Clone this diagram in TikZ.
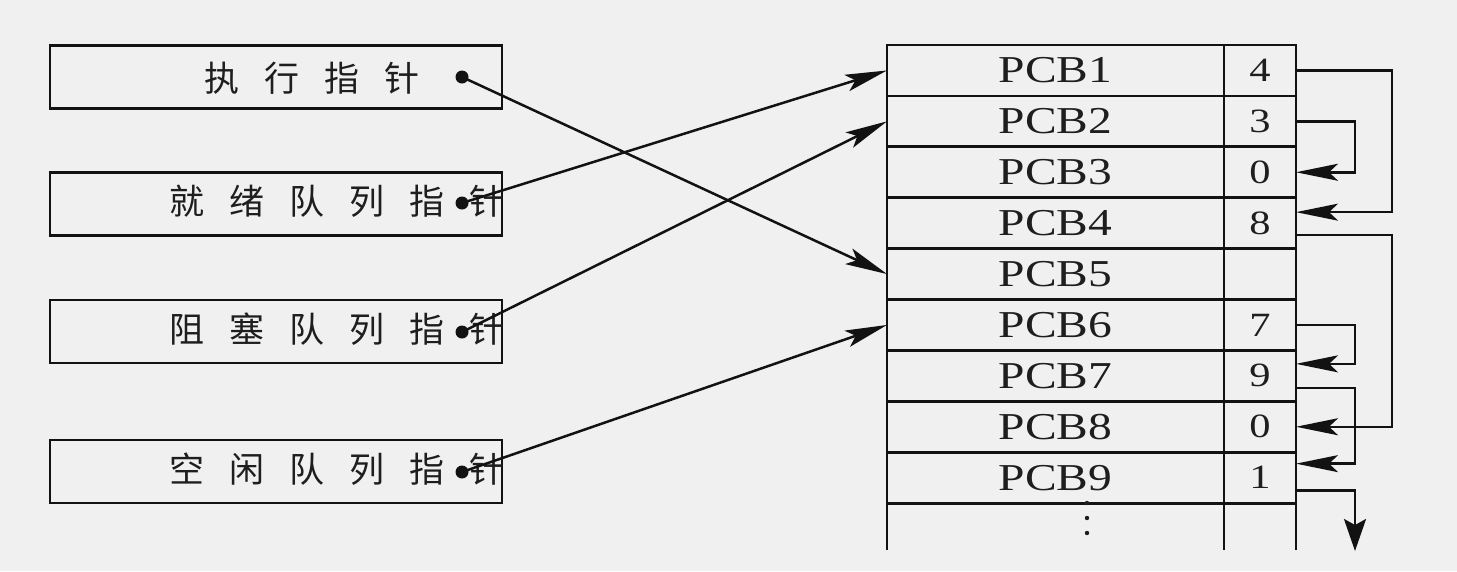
\documentclass[tikz,border=0pt]{standalone}
\usepackage{fontspec}
\newfontfamily\cjk{Noto Sans CJK SC}
\newfontfamily\pcbfont[FakeStretch=1.25]{Liberation Serif}
\usetikzlibrary{arrows.meta}
\definecolor{bgc}{RGB}{240,240,240}
\definecolor{ink}{RGB}{18,18,18}
\definecolor{txt}{RGB}{30,30,30}
\newcommand\hz[1]{\makebox[60pt]{#1}}
\tikzset{
  ptrbox/.style={draw=ink, line width=2.8pt, minimum width=452pt, minimum height=63pt, inner sep=0pt, outer sep=0pt},
  cjktext/.style={font=\cjk\fontsize{35}{35}\selectfont, text=txt, inner sep=0pt},
  ptrdot/.style={circle, fill=ink, inner sep=0pt, minimum size=13pt},
  namecell/.style={draw=ink, line width=2.8pt, minimum width=337pt, minimum height=50.9pt, inner sep=0pt, outer sep=0pt, text=txt, font=\pcbfont\fontsize{38}{38}\selectfont},
  valcell/.style={draw=ink, line width=2.8pt, minimum width=72pt, minimum height=50.9pt, inner sep=0pt, outer sep=0pt, text=txt, font=\pcbfont\fontsize{34}{34}\selectfont},
  tline/.style={draw=ink, line width=2.8pt},
  conn/.style={draw=ink, line width=2.5pt},
  arr/.style={conn, -{Stealth[length=42pt,width=17pt,inset=9pt]}},
  darr/.style={conn, -{Stealth[length=32pt,width=22pt,inset=6pt]}},
  vdot/.style={circle, fill=txt, inner sep=0pt, minimum size=4.5pt}
}
\begin{document}
\begin{tikzpicture}[x=1pt,y=-1pt]
\useasboundingbox (0,0) rectangle (1457,571);
\fill[bgc] (0,0) rectangle (1457,571);

% left pointer boxes
\node[ptrbox] (b1) at (276,77) {};
\node[ptrbox] (b2) at (276,204) {};
\node[ptrbox] (b3) at (276,331.5) {};
\node[ptrbox] (b4) at (276,471.5) {};

\node[cjktext] (t1) at (312,78) {\hz{执}\hz{行}\hz{指}\hz{针}};
\node[cjktext] (t2) at (337,201) {\hz{就}\hz{绪}\hz{队}\hz{列}\hz{指}\hz{针}};
\node[cjktext] (t3) at (337,329) {\hz{阻}\hz{塞}\hz{队}\hz{列}\hz{指}\hz{针}};
\node[cjktext] (t4) at (337,469) {\hz{空}\hz{闲}\hz{队}\hz{列}\hz{指}\hz{针}};

\node[ptrdot] (d1) at (462,77) {};
\node[ptrdot] (d2) at (462,203) {};
\node[ptrdot] (d3) at (462,332) {};
\node[ptrdot] (d4) at (462,472) {};

% PCB table
\foreach \i/\v in {1/4,2/3,3/0,4/8,5/{},6/7,7/9,8/0,9/1}{
  \node[namecell] (n\i) at (1055.5,{45+50.9*(\i-0.5)}) {PCB\i};
  \node[valcell] (v\i) at (1260,{45+50.9*(\i-0.5)}) {\v};
}
\draw[tline] (n9.south west) -- ++(0,47);
\draw[tline] (n9.south east) -- ++(0,47);
\draw[tline] (v9.south east) -- ++(0,47);
% vertical ellipsis below PCB9
\fill[txt] (1087,503) circle (2.2pt);
\fill[txt] (1087,518) circle (2.2pt);
\fill[txt] (1087,533) circle (2.2pt);

% pointers from the left boxes
\draw[arr] (d1.center) -- (n5.west);
\draw[arr] (d2.center) -- (n1.west);
\draw[arr] (d3.center) -- (n2.west);
\draw[arr] (d4.center) -- (n6.west);

% links between PCBs
\draw[arr] (v1.east) -- ++(96,0) |- ([yshift=11pt]v4.east);
\draw[arr] (v2.east) -- ++(59,0) |- (v3.east);
\draw[arr] ([yshift=-12pt]v4.east) -- ++(96,0) |- (v8.east);
\draw[arr] (v6.east) -- ++(59,0) |- ([yshift=12pt]v7.east);
\draw[arr] ([yshift=-12pt]v7.east) -- ++(59,0) |- ([yshift=14pt]v9.east);
\coordinate (endq) at (1355,551);
\draw[darr] ([yshift=-13pt]v9.east) -| (endq);
\end{tikzpicture}
\end{document}
